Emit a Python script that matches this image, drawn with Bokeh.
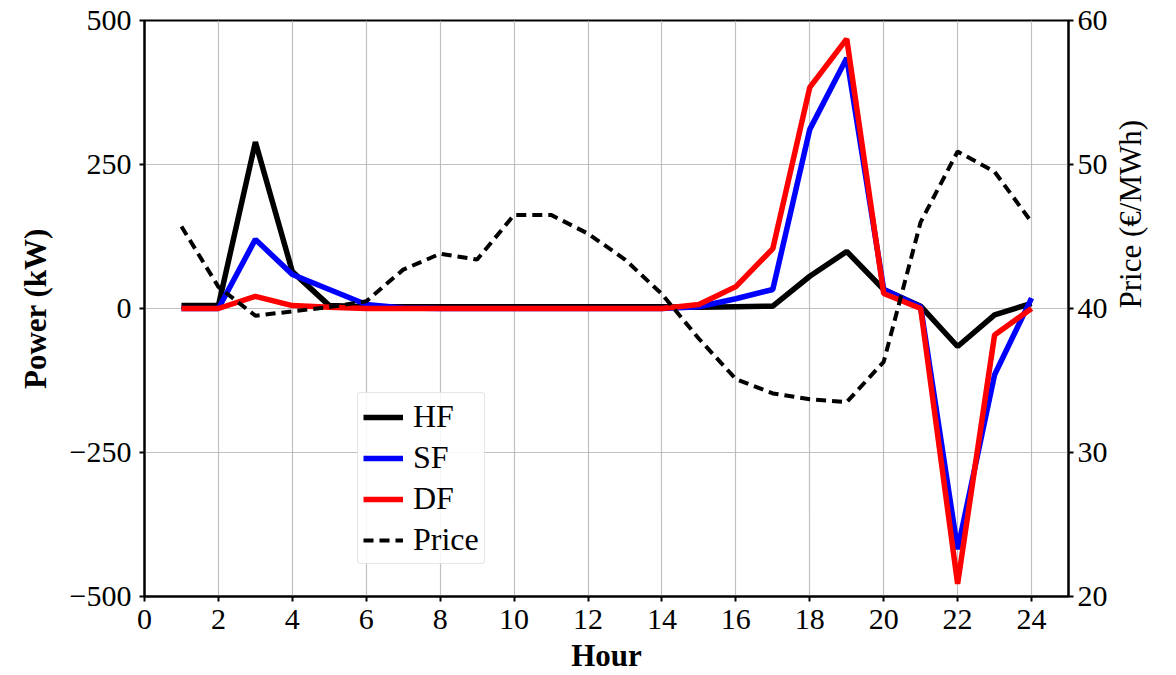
import math
from bokeh.plotting import figure
from bokeh.models import Range1d, LinearAxis, FixedTicker, Legend, LegendItem
from bokeh.embed import file_html
from bokeh.resources import INLINE

hours = list(range(1, 25))
hf = [5, 5, 289, 64, 5, 3, 3, 3, 3, 3, 3, 3, 3, 3, 2, 3, 4, 56, 99, 33, 4, -66, -11, 9]
sf = [0, 0, 120, 59, 33, 7, 1, 0, 0, 0, 0, 0, 0, 0, 3, 17, 33, 311, 435, 33, 3, -418, -115, 18]
df = [0, 0, 21, 5, 2, 0, 0, 0, 0, 0, 0, 0, 0, 0, 7, 38, 104, 384, 468, 26, 0, -478, -46, 0]
price = [45.7, 41.5, 39.5, 39.8, 40.1, 40.5, 42.7, 43.8, 43.4, 46.5, 46.5, 45.2,
         43.4, 41.0, 37.9, 35.1, 34.1, 33.7, 33.5, 36.3, 46.0, 50.9, 49.5, 46.0]

x_ticks = list(range(0, 25, 2))
y_ticks = [-500, -250, 0, 250, 500]
price_ticks = [20, 30, 40, 50, 60]

FONT = "Liberation Serif"
TICK_FS = "30px"
LABEL_FS = "31px"
LEG_FS = "32px"

p = figure(width=1176, height=675, x_range=Range1d(0, 25), y_range=Range1d(-500, 500),
           output_backend="svg", toolbar_location=None,
           min_border_left=144, min_border_right=108, min_border_top=20, min_border_bottom=79)
p.extra_y_ranges = {"price": Range1d(20, 60)}

p.outline_line_color = "black"
p.outline_line_width = 2
p.outline_line_alpha = 1

def style_axis(ax):
    ax.axis_line_width = 2
    ax.axis_line_color = "black"
    ax.major_tick_line_width = 2
    ax.major_tick_line_color = "black"
    ax.major_tick_out = 5
    ax.major_tick_in = 0
    ax.minor_tick_out = 0
    ax.minor_tick_in = 0
    ax.major_label_text_font = FONT
    ax.major_label_text_font_size = TICK_FS
    ax.major_label_text_color = "black"
    ax.axis_label_text_font = FONT
    ax.axis_label_text_font_size = LABEL_FS
    ax.axis_label_text_color = "black"
    ax.axis_label_text_font_style = "bold"

xa = p.xaxis[0]
style_axis(xa)
xa.ticker = FixedTicker(ticks=x_ticks)
xa.axis_label = "Hour"
xa.major_label_standoff = 8
xa.axis_label_standoff = 6

ya = p.yaxis[0]
style_axis(ya)
ya.ticker = FixedTicker(ticks=y_ticks)
ya.major_label_overrides = {t: (str(t).replace("-", "\u2212")) for t in y_ticks}
ya.axis_label = "Power (kW)"
ya.major_label_standoff = 8
ya.axis_label_standoff = 14

ra = LinearAxis(y_range_name="price", axis_label="Price (\u20ac/MWh)")
style_axis(ra)
ra.ticker = FixedTicker(ticks=price_ticks)
ra.axis_label_text_font_style = "normal"
ra.major_label_standoff = 4
ra.axis_label_standoff = 20
try:
    ra.axis_label_orientation = math.pi / 2
except Exception:
    pass
p.add_layout(ra, "right")

p.xgrid.ticker = FixedTicker(ticks=x_ticks)
p.ygrid.ticker = FixedTicker(ticks=y_ticks)
for g in (p.xgrid[0], p.ygrid[0]):
    g.grid_line_color = "#b0b0b0"
    g.grid_line_width = 1.2
    g.grid_line_alpha = 0.8

r_hf = p.line(hours, hf, line_color="black", line_width=5.5)
r_sf = p.line(hours, sf, line_color="#0000ff", line_width=5.5)
r_df = p.line(hours, df, line_color="#ff0000", line_width=5.5)
r_pr = p.line(hours, price, line_color="black", line_width=4, line_dash="10 6",
              y_range_name="price")

legend = Legend(items=[LegendItem(label="HF", renderers=[r_hf]),
                       LegendItem(label="SF", renderers=[r_sf]),
                       LegendItem(label="DF", renderers=[r_df]),
                       LegendItem(label="Price", renderers=[r_pr])],
                location=(213, 32))
legend.label_text_font = FONT
legend.label_text_font_size = LEG_FS
legend.label_text_color = "black"
legend.glyph_width = 40
legend.glyph_height = 30
legend.label_height = 30
legend.spacing = 4
legend.padding = 5
legend.margin = 0
legend.label_standoff = 10
legend.border_line_color = "#cccccc"
legend.border_line_width = 1.5
legend.border_radius = 4
legend.background_fill_alpha = 0.85
p.add_layout(legend)

open("out.html", "w").write(file_html(p, INLINE))
